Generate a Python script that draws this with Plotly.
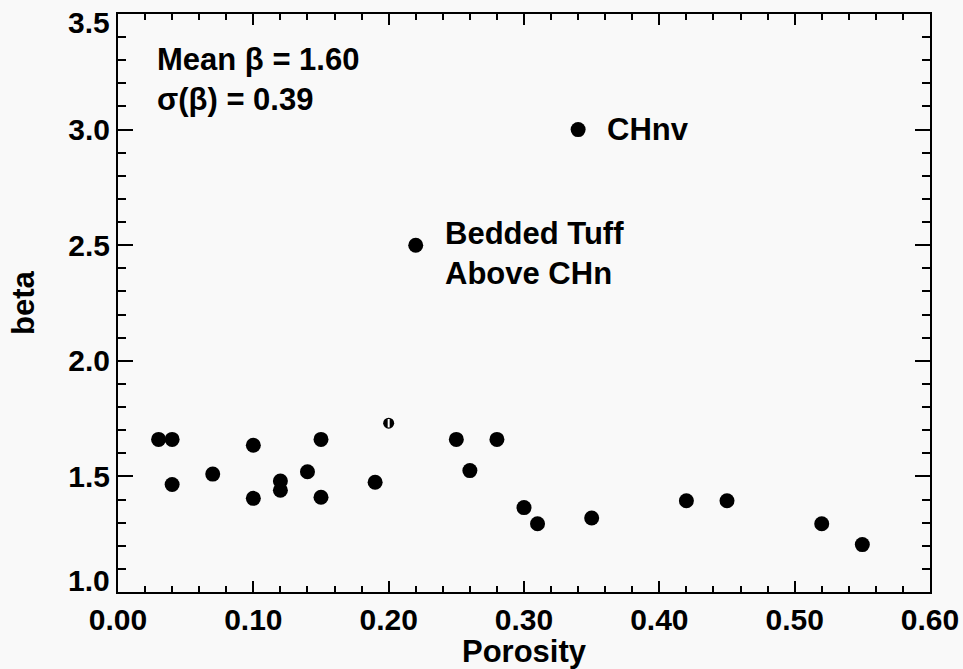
import plotly.graph_objects as go

# Data
porosity = [0.03, 0.04, 0.04, 0.07, 0.10, 0.10, 0.12, 0.12, 0.14, 0.15, 0.15,
            0.19, 0.25, 0.26, 0.28, 0.30, 0.31, 0.35, 0.42, 0.45, 0.52, 0.55]
beta = [1.66, 1.66, 1.465, 1.51, 1.635, 1.405, 1.48, 1.44, 1.52, 1.66, 1.41,
        1.475, 1.66, 1.525, 1.66, 1.365, 1.295, 1.32, 1.395, 1.395, 1.295, 1.205]

open_x = [0.20]
open_y = [1.73]

label_x = [0.34, 0.22]
label_y = [3.00, 2.50]
label_text = ["CHnv", "Bedded Tuff<br>Above CHn"]

x_ticks = [0.0, 0.1, 0.2, 0.3, 0.4, 0.5, 0.6]
y_ticks = [1.0, 1.5, 2.0, 2.5, 3.0, 3.5]
y_ticktext = ["1.0", "1.5", "2.0", "2.5", "3.0", "3.5"]

FONT = "Liberation Sans"
TICKFONT = dict(family=FONT, size=30, color="black", weight="bold")

fig = go.Figure()
fig.add_trace(go.Scatter(x=porosity, y=beta, mode="markers",
                         marker=dict(color="black", size=15), showlegend=False))
fig.add_trace(go.Scatter(x=label_x, y=label_y, mode="markers",
                         marker=dict(color="black", size=15), showlegend=False))
fig.add_trace(go.Scatter(x=open_x, y=open_y, mode="markers",
                         marker=dict(color="black", size=11), showlegend=False))
fig.add_trace(go.Scatter(x=open_x, y=open_y, mode="markers",
                         marker=dict(symbol="line-ns", size=6,
                                     line=dict(color="white", width=2)),
                         showlegend=False))

for lx, ly, lt in zip(label_x, label_y, label_text):
    fig.add_annotation(x=lx, y=ly, text=lt, showarrow=False, xanchor="left",
                       yanchor="middle", align="left", xshift=27,
                       yshift=(-8 if "<br>" in lt else 0),
                       font=dict(family=FONT, size=31, color="black", weight="bold"))

fig.add_annotation(xref="paper", yref="paper", x=0.046, y=0.955, text="Mean β = 1.60<br>σ(β) = 0.39",
                   showarrow=False, xanchor="left", yanchor="top", align="left",
                   font=dict(family=FONT, size=31, color="black", weight="bold"))

# End labels of the y axis sit inside the axis span (as in the reference)
inner_text = [""] + y_ticktext[1:-1] + [""]
fig.add_annotation(xref="paper", yref="y", x=0, y=y_ticks[0], text=y_ticktext[0],
                   showarrow=False, xanchor="right", yanchor="bottom", xshift=-6, yshift=-7,
                   font=TICKFONT)
fig.add_annotation(xref="paper", yref="y", x=0, y=y_ticks[-1], text=y_ticktext[-1],
                   showarrow=False, xanchor="right", yanchor="top", xshift=-6, yshift=10,
                   font=TICKFONT)

axis_common = dict(
    showline=True, linecolor="black", linewidth=2, mirror="ticks",
    ticks="inside", tickcolor="black", tickwidth=2,
    showgrid=False, zeroline=False, automargin=False,
    ticklabeloverflow="allow",
    tickfont=TICKFONT,
)

fig.update_xaxes(**axis_common, range=[0, 0.6], tickvals=x_ticks, tickformat=".2f",
                 ticklen=11,
                 minor=dict(dtick=0.02, ticks="inside", ticklen=6, tickwidth=2,
                            tickcolor="black", showgrid=False),
                 title=dict(text="Porosity", standoff=2,
                            font=dict(family=FONT, size=31, color="black", weight="bold")))
fig.update_yaxes(**axis_common, range=[1.0, 3.5], tickvals=y_ticks, ticktext=inner_text,
                 ticklen=15,
                 minor=dict(dtick=0.1, ticks="inside", ticklen=8, tickwidth=2,
                            tickcolor="black", showgrid=False),
                 title=dict(text="beta", standoff=24,
                            font=dict(family=FONT, size=31, color="black", weight="bold")))

fig.update_layout(
    width=963, height=669,
    margin=dict(l=118, r=33, t=14, b=77),
    paper_bgcolor="#f9f9f9", plot_bgcolor="#f9f9f9",
)

fig.write_html("out.html")
